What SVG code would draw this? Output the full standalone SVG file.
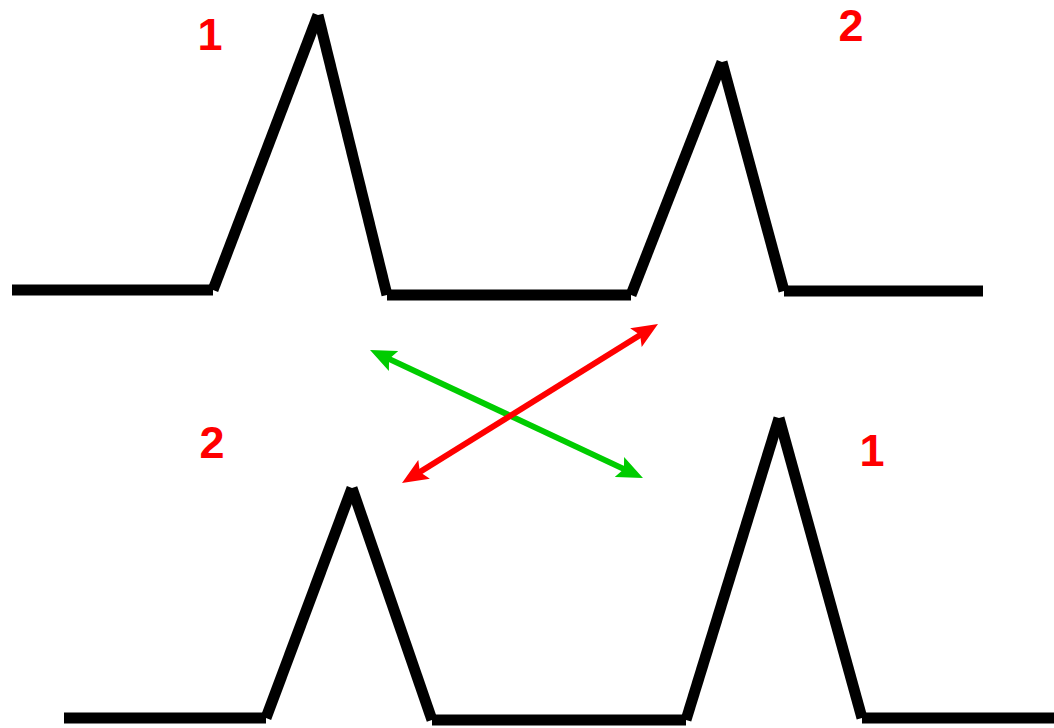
<svg xmlns="http://www.w3.org/2000/svg" width="1054" height="728" viewBox="0 0 1054 728">
<style>
.trace line{stroke:#000;stroke-width:11;stroke-linecap:butt}
.lbl{font-family:"Liberation Sans",Arial,sans-serif;font-weight:bold;font-size:45px;fill:#ff0000;text-anchor:middle}
.arr{stroke-width:6;fill:none}
</style>
<defs>
<marker id="hg" markerUnits="userSpaceOnUse" markerWidth="26" markerHeight="22" refX="14" refY="11" orient="auto-start-reverse"><path d="M0,0 L26,11 L0,22 L5,11 z" fill="#00cc00"/></marker>
<marker id="hr" markerUnits="userSpaceOnUse" markerWidth="26" markerHeight="22" refX="14" refY="11" orient="auto-start-reverse"><path d="M0,0 L26,11 L0,22 L5,11 z" fill="#ff0000"/></marker>
</defs>
<rect width="1054" height="728" fill="#fff"/>
<g id="trace-top" class="trace">
<line x1="12" y1="290" x2="213" y2="290"/>
<line x1="213" y1="290" x2="318" y2="15"/>
<line x1="318" y1="15" x2="387" y2="295"/>
<line x1="387" y1="295" x2="631" y2="295"/>
<line x1="631" y1="295" x2="722" y2="62"/>
<line x1="722" y1="62" x2="784" y2="291"/>
<line x1="784" y1="291" x2="983" y2="291"/>
</g>
<g id="trace-bottom" class="trace">
<line x1="64" y1="718" x2="266" y2="718"/>
<line x1="266" y1="718" x2="352" y2="488"/>
<line x1="352" y1="488" x2="432" y2="720"/>
<line x1="432" y1="720" x2="686" y2="720"/>
<line x1="686" y1="720" x2="779" y2="418"/>
<line x1="779" y1="418" x2="862" y2="718"/>
<line x1="862" y1="718" x2="1054" y2="718"/>
</g>
<g id="labels">
<text class="lbl" x="210" y="50">1</text>
<text class="lbl" x="851" y="41">2</text>
<text class="lbl" x="212" y="458">2</text>
<text class="lbl" x="872" y="466">1</text>
</g>
<g id="connectors">
<line class="arr" stroke="#00cc00" x1="380.9" y1="355.1" x2="632.1" y2="472.9" marker-start="url(#hg)" marker-end="url(#hg)"/>
<line class="arr" stroke="#ff0000" x1="412.2" y1="476.7" x2="647.8" y2="330.3" marker-start="url(#hr)" marker-end="url(#hr)"/>
</g>
</svg>
